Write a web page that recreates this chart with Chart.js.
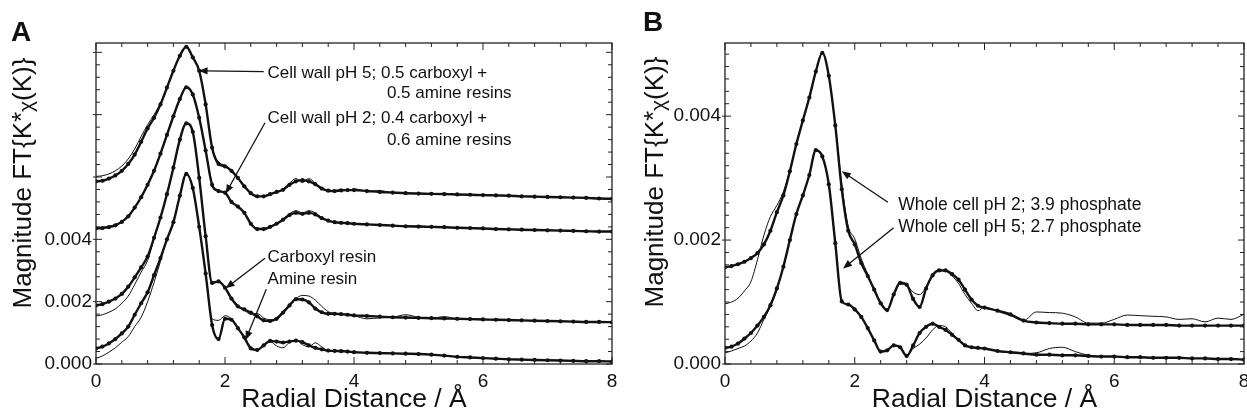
<!DOCTYPE html>
<html>
<head>
<meta charset="utf-8">
<script src="https://cdn.jsdelivr.net/npm/chart.js@4.4.1/dist/chart.umd.min.js"></script>
<style>
  html, body { margin: 0; padding: 0; background: #fff; overflow: hidden; }
  #wrap { position: relative; width: 1247px; height: 416px; overflow: hidden; }
  #chartA { position: absolute; left: 0; top: 0; }
  #chartB { position: absolute; left: 630px; top: 0; }
</style>
</head>
<body>
<div id="wrap">
  <canvas id="chartA" width="630" height="416"></canvas>
  <canvas id="chartB" width="630" height="416"></canvas>
</div>
<script>
// Radial distance grid (Å)
const radius = [0, 0.1, 0.2, 0.3, 0.4, 0.5, 0.6, 0.7, 0.8, 0.9,
  1, 1.1, 1.2, 1.3, 1.4, 1.5, 1.6, 1.7, 1.8, 1.9,
  2, 2.1, 2.2, 2.3, 2.4, 2.5, 2.6, 2.7, 2.8, 2.9,
  3, 3.1, 3.2, 3.3, 3.4, 3.5, 3.6, 3.7, 3.8, 3.9,
  4,
  4.2, 4.4, 4.6, 4.8, 5, 5.2, 5.4, 5.6, 5.8, 6,
  6.2, 6.4, 6.6, 6.8, 7, 7.2, 7.4, 7.6, 7.8, 8];

// all magnitudes below in units of 1e-3 (offset curves as plotted)
// panel A
const wallPH5 = [5.86, 5.88, 5.95, 6.05, 6.20, 6.42, 6.72, 7.13, 7.56, 7.90,
  8.33, 8.87, 9.41, 9.89, 10.18, 9.84, 9.41, 8.33, 6.94, 6.42,
  6.34, 6.20, 5.97, 5.70, 5.48, 5.38, 5.38, 5.45, 5.52, 5.59,
  5.75, 5.86, 5.90, 5.86, 5.77, 5.63, 5.56, 5.55, 5.57, 5.58,
  5.58,
  5.55, 5.52, 5.50, 5.48, 5.47, 5.46, 5.45, 5.44, 5.43, 5.42,
  5.41, 5.40, 5.38, 5.37, 5.36, 5.35, 5.34, 5.33, 5.31, 5.30];
const wallPH5Fit = [6.02, 6.04, 6.10, 6.20, 6.35, 6.58, 6.90, 7.30, 7.68, 8.00,
  8.38, 8.88, 9.41, 9.89, 10.18, 9.84, 9.41, 8.33, 6.98, 6.48,
  6.38, 6.22, 5.97, 5.70, 5.48, 5.38, 5.40, 5.46, 5.52, 5.62,
  5.80, 5.95, 5.82, 5.95, 5.80, 5.62, 5.55, 5.56, 5.60, 5.56,
  5.62,
  5.55, 5.56, 5.50, 5.48, 5.47, 5.46, 5.48, 5.43, 5.43, 5.42,
  5.41, 5.40, 5.38, 5.37, 5.36, 5.35, 5.34, 5.33, 5.31, 5.30];
const wallPH2 = [4.35, 4.36, 4.39, 4.45, 4.56, 4.74, 5.02, 5.35, 5.75, 6.20,
  6.75, 7.35, 7.95, 8.50, 8.88, 8.65, 7.90, 6.85, 5.75, 5.55,
  5.50, 5.20, 5.05, 4.85, 4.50, 4.33, 4.33, 4.40, 4.50, 4.63,
  4.78, 4.85, 4.82, 4.85, 4.80, 4.68, 4.60, 4.55, 4.53, 4.52,
  4.50,
  4.48, 4.46, 4.44, 4.42, 4.41, 4.40, 4.39, 4.37, 4.36, 4.35,
  4.33, 4.32, 4.31, 4.30, 4.29, 4.28, 4.27, 4.26, 4.25, 4.25];
const wallPH2Fit = [4.38, 4.39, 4.42, 4.48, 4.58, 4.76, 5.04, 5.37, 5.77, 6.22,
  6.75, 7.35, 7.95, 8.50, 8.88, 8.65, 7.90, 6.85, 5.80, 5.58,
  5.45, 5.22, 5.05, 4.83, 4.52, 4.35, 4.35, 4.42, 4.52, 4.65,
  4.82, 4.92, 4.85, 4.92, 4.85, 4.70, 4.60, 4.55, 4.53, 4.52,
  4.50,
  4.48, 4.47, 4.44, 4.42, 4.43, 4.40, 4.39, 4.37, 4.36, 4.35,
  4.33, 4.32, 4.31, 4.30, 4.29, 4.28, 4.27, 4.26, 4.25, 4.25];
const carboxyl = [1.88, 1.92, 2.00, 2.10, 2.25, 2.48, 2.78, 3.10, 3.45, 4.05,
  4.70, 5.45, 6.30, 7.20, 7.72, 7.45, 5.97, 4.10, 2.60, 2.65,
  2.45, 2.10, 1.85, 1.75, 1.65, 1.53, 1.40, 1.38, 1.45, 1.65,
  1.88, 2.08, 2.07, 1.98, 1.78, 1.66, 1.61, 1.61, 1.60, 1.58,
  1.56,
  1.54, 1.52, 1.50, 1.49, 1.48, 1.47, 1.46, 1.45, 1.44, 1.43,
  1.42, 1.41, 1.40, 1.39, 1.38, 1.37, 1.36, 1.35, 1.35, 1.34];
const carboxylFit = [1.54, 1.58, 1.66, 1.77, 1.95, 2.18, 2.55, 2.95, 3.32, 4.02,
  4.70, 5.45, 6.30, 7.20, 7.72, 7.45, 5.97, 4.10, 2.62, 2.62,
  2.42, 2.08, 1.85, 1.72, 1.60, 1.62, 1.48, 1.42, 1.48, 1.70,
  1.90, 2.10, 2.20, 2.18, 2.05, 1.85, 1.68, 1.62, 1.60, 1.58,
  1.55,
  1.45, 1.48, 1.50, 1.58, 1.50, 1.47, 1.52, 1.45, 1.44, 1.43,
  1.42, 1.41, 1.40, 1.39, 1.38, 1.37, 1.36, 1.35, 1.35, 1.34];
const amine = [0.50, 0.56, 0.66, 0.80, 0.98, 1.20, 1.58, 1.95, 2.30, 2.85,
  3.40, 4.00, 4.55, 5.40, 6.10, 5.65, 4.40, 2.90, 1.25, 0.80,
  1.45, 1.42, 1.15, 0.85, 0.50, 0.45, 0.60, 0.74, 0.72, 0.69,
  0.72, 0.75, 0.70, 0.60, 0.52, 0.47, 0.43, 0.42, 0.41, 0.40,
  0.38,
  0.36, 0.35, 0.34, 0.33, 0.32, 0.30, 0.27, 0.23, 0.21, 0.19,
  0.17, 0.15, 0.14, 0.13, 0.12, 0.11, 0.10, 0.09, 0.09, 0.08];
const amineFit = [0.18, 0.26, 0.38, 0.52, 0.70, 0.88, 1.20, 1.50, 2.00, 2.62,
  3.30, 4.00, 4.55, 5.40, 6.10, 5.65, 4.40, 2.90, 1.45, 1.40,
  1.55, 1.45, 1.15, 0.85, 0.55, 0.45, 0.60, 0.72, 0.58, 0.52,
  0.70, 0.76, 0.62, 0.55, 0.68, 0.55, 0.43, 0.42, 0.41, 0.40,
  0.39,
  0.36, 0.35, 0.34, 0.33, 0.32, 0.30, 0.27, 0.23, 0.21, 0.19,
  0.17, 0.15, 0.14, 0.13, 0.12, 0.11, 0.10, 0.09, 0.09, 0.08];

// panel B
const cellPH2 = [1.56, 1.58, 1.61, 1.65, 1.71, 1.79, 1.93, 2.15, 2.45, 2.72,
  3.11, 3.55, 3.93, 4.30, 4.72, 5.02, 4.65, 3.85, 2.82, 2.15,
  1.93, 1.63, 1.42, 1.20, 0.98, 0.87, 1.12, 1.31, 1.28, 1.05,
  0.92, 1.22, 1.43, 1.51, 1.51, 1.45, 1.36, 1.20, 1.04, 0.94,
  0.91,
  0.86, 0.80, 0.70, 0.67, 0.66, 0.65, 0.65, 0.64, 0.64, 0.64,
  0.63, 0.63, 0.63, 0.63, 0.62, 0.62, 0.62, 0.62, 0.62, 0.62];
const cellPH2Fit = [0.97, 1.00, 1.06, 1.18, 1.33, 1.68, 2.08, 2.38, 2.56, 2.78,
  3.13, 3.55, 3.93, 4.30, 4.72, 5.02, 4.65, 3.85, 2.90, 2.22,
  2.02, 1.70, 1.45, 1.20, 1.00, 0.88, 1.10, 1.29, 1.27, 1.16,
  1.12, 1.25, 1.45, 1.52, 1.50, 1.42, 1.30, 1.12, 0.98, 0.86,
  0.92,
  0.85, 0.78, 0.70, 0.84, 0.83, 0.82, 0.76, 0.66, 0.66, 0.72,
  0.79, 0.78, 0.77, 0.76, 0.72, 0.73, 0.68, 0.74, 0.72, 0.80];
const cellPH5 = [0.26, 0.28, 0.33, 0.41, 0.50, 0.62, 0.76, 0.95, 1.22, 1.57,
  2.00, 2.42, 2.72, 3.05, 3.45, 3.35, 2.90, 1.95, 1.01, 0.96,
  0.88, 0.76, 0.58, 0.38, 0.20, 0.22, 0.30, 0.27, 0.13, 0.30,
  0.50, 0.60, 0.65, 0.60, 0.55, 0.47, 0.39, 0.30, 0.27, 0.26,
  0.25,
  0.21, 0.19, 0.17, 0.15, 0.15, 0.14, 0.14, 0.13, 0.12, 0.12,
  0.11, 0.11, 0.10, 0.10, 0.10, 0.09, 0.09, 0.08, 0.08, 0.07];
const cellPH5Fit = [0.18, 0.21, 0.25, 0.29, 0.37, 0.50, 0.72, 0.93, 1.20, 1.57,
  2.00, 2.42, 2.72, 3.05, 3.45, 3.35, 2.90, 1.95, 1.01, 0.96,
  0.88, 0.76, 0.58, 0.38, 0.20, 0.22, 0.30, 0.27, 0.14, 0.25,
  0.32, 0.42, 0.55, 0.62, 0.60, 0.50, 0.39, 0.30, 0.27, 0.26,
  0.25,
  0.21, 0.18, 0.17, 0.18, 0.25, 0.27, 0.20, 0.14, 0.12, 0.12,
  0.11, 0.11, 0.10, 0.10, 0.10, 0.09, 0.09, 0.08, 0.08, 0.07];

// tick labels
const xTickValues = [0, 2, 4, 6, 8];
const yTickValues = [0, 0.002, 0.004];

const FONT = '"Liberation Sans", Arial, Helvetica, sans-serif';
const INK = '#111';

function pts(ys) {
  return radius.map((r, i) => ({ x: r, y: ys[i] * 1e-3 }));
}

function dataSet(ys) {
  return {
    data: pts(ys),
    borderColor: INK,
    backgroundColor: INK,
    borderWidth: 2.4,
    pointRadius: 2.1,
    pointBorderWidth: 0,
    pointBackgroundColor: INK,
    cubicInterpolationMode: 'monotone'
  };
}

function fitSet(ys) {
  return {
    data: pts(ys),
    borderColor: INK,
    borderWidth: 1,
    pointRadius: 0,
    cubicInterpolationMode: 'monotone'
  };
}

function arrow(ctx, x1, y1, x2, y2) {
  const ang = Math.atan2(y2 - y1, x2 - x1);
  const hl = 9, hw = 3.6;
  ctx.beginPath();
  ctx.moveTo(x1, y1);
  ctx.lineTo(x2 - Math.cos(ang) * hl * 0.8, y2 - Math.sin(ang) * hl * 0.8);
  ctx.stroke();
  ctx.beginPath();
  ctx.moveTo(x2, y2);
  ctx.lineTo(x2 - Math.cos(ang) * hl - Math.sin(ang) * hw, y2 - Math.sin(ang) * hl + Math.cos(ang) * hw);
  ctx.lineTo(x2 - Math.cos(ang) * hl + Math.sin(ang) * hw, y2 - Math.sin(ang) * hl - Math.cos(ang) * hw);
  ctx.closePath();
  ctx.fill();
}

function drawYTitle(ctx, cx, cy) {
  const big = '26px ' + FONT, small = '21px ' + FONT;
  const parts = [['Magnitude FT{K', big, 0], ['*', big, -1], ['\u03C7', small, 3], ['(K)}', big, 0]];
  ctx.save();
  ctx.translate(cx, cy);
  ctx.rotate(-Math.PI / 2);
  ctx.fillStyle = INK;
  ctx.textBaseline = 'middle';
  ctx.textAlign = 'left';
  let total = 0;
  parts.forEach(p => { ctx.font = p[1]; total += ctx.measureText(p[0]).width; });
  let xx = -total / 2;
  parts.forEach(p => {
    ctx.font = p[1];
    ctx.fillText(p[0], xx, p[2]);
    xx += ctx.measureText(p[0]).width;
  });
  ctx.restore();
}

// frame, inward ticks, labels and arrows for one panel
function panelPlugin(panel) {
  return {
    id: 'panel' + panel.letter,
    afterDatasetsDraw(chart) {
      const { ctx, chartArea: a, scales: { x, y } } = chart;
      ctx.save();
      ctx.strokeStyle = '#222';
      ctx.lineWidth = 1.3;
      ctx.strokeRect(a.left, a.top, a.right - a.left, a.bottom - a.top);
      ctx.lineWidth = 1;
      ctx.beginPath();
      for (let i = 0; i * 0.4 <= 8.0001; i++) {
        const len = i % 5 === 0 ? 7 : 4;
        const px = x.getPixelForValue(i * 0.4);
        ctx.moveTo(px, a.bottom); ctx.lineTo(px, a.bottom - len);
        ctx.moveTo(px, a.top); ctx.lineTo(px, a.top + len);
      }
      const per = Math.round(0.002 / panel.yMinor);
      for (let i = 0; i * panel.yMinor <= y.max + 1e-9; i++) {
        const major = i % per === 0;
        const py = y.getPixelForValue(i * panel.yMinor);
        ctx.moveTo(a.left - (major ? 3 : 0), py); ctx.lineTo(a.left + (major ? 6 : 4), py);
        ctx.moveTo(a.right, py); ctx.lineTo(a.right - (major ? 6 : 4), py);
      }
      ctx.stroke();
      ctx.restore();
    },
    afterDraw(chart) {
      const { ctx, scales: { x, y } } = chart;
      const X = v => x.getPixelForValue(v);
      const Y = v => y.getPixelForValue(v * 1e-3);
      ctx.save();
      ctx.fillStyle = INK;
      ctx.strokeStyle = INK;
      ctx.lineWidth = 1.3;
      ctx.font = panel.noteSize + 'px ' + FONT;
      ctx.textBaseline = 'middle';
      ctx.textAlign = 'left';
      panel.notes.forEach(n => ctx.fillText(n.text, X(n.x), Y(n.y)));
      panel.arrows.forEach(r => arrow(ctx, X(r[0]), Y(r[1]), X(r[2]), Y(r[3])));
      ctx.font = 'bold 28px ' + FONT;
      ctx.textBaseline = 'alphabetic';
      ctx.fillText(panel.letter, panel.letterPos[0], panel.letterPos[1]);
      ctx.restore();
      drawYTitle(ctx, panel.titlePos[0], panel.titlePos[1]);
    }
  };
}

function makeChart(id, panel, datasets) {
  return new Chart(document.getElementById(id), {
    type: 'line',
    data: { datasets },
    options: {
      responsive: false,
      animation: false,
      events: [],
      layout: { padding: { left: 0, right: panel.padRight, top: 43, bottom: 0 } },
      plugins: { legend: { display: false }, tooltip: { enabled: false } },
      scales: {
        x: {
          type: 'linear', min: 0, max: 8,
          grid: { display: false, drawTicks: false }, border: { display: false },
          afterBuildTicks: s => { s.ticks = xTickValues.map(v => ({ value: v })); },
          afterFit: s => { s.height = 52; },
          ticks: { font: { family: FONT, size: 19 }, color: INK, padding: 6, autoSkip: false, maxRotation: 0,
                   callback: v => String(v) },
          title: { display: true, text: 'Radial Distance / Å', color: INK,
                   font: { family: FONT, size: 26.5 }, padding: { top: 0, bottom: 0 } }
        },
        y: {
          type: 'linear', min: 0, max: panel.yMax,
          grid: { display: false, drawTicks: false }, border: { display: false },
          afterBuildTicks: s => { s.ticks = yTickValues.map(v => ({ value: v })); },
          afterFit: s => { s.width = panel.axisWidth; },
          ticks: { font: { family: FONT, size: 19 }, color: INK, padding: 4, autoSkip: false,
                   callback: v => v.toFixed(3) }
        }
      }
    },
    plugins: [panelPlugin(panel)]
  });
}

makeChart('chartA', {
  letter: 'A', letterPos: [11, 41], titlePos: [24, 183],
  yMax: 0.0103, yMinor: 0.0004, axisWidth: 96, padRight: 18, noteSize: 17,
  notes: [
    { text: 'Cell wall pH 5; 0.5 carboxyl +', x: 2.66, y: 9.34 },
    { text: '0.5 amine resins', x: 4.51, y: 8.67 },
    { text: 'Cell wall pH 2; 0.4 carboxyl +', x: 2.66, y: 7.87 },
    { text: '0.6 amine resins', x: 4.51, y: 7.17 },
    { text: 'Carboxyl resin', x: 2.66, y: 3.42 },
    { text: 'Amine resin', x: 2.66, y: 2.72 }
  ],
  arrows: [
    [2.60, 9.38, 1.59, 9.41],
    [2.62, 7.74, 2.01, 5.47],
    [2.62, 3.39, 2.01, 2.43],
    [2.64, 2.40, 2.32, 0.77]
  ]
}, [
  dataSet(wallPH5), fitSet(wallPH5Fit),
  dataSet(wallPH2), fitSet(wallPH2Fit),
  dataSet(carboxyl), fitSet(carboxylFit),
  dataSet(amine), fitSet(amineFit)
]);

makeChart('chartB', {
  letter: 'B', letterPos: [13, 31], titlePos: [26, 182],
  yMax: 0.00518, yMinor: 0.0002, axisWidth: 95, padRight: 16, noteSize: 17.5,
  notes: [
    { text: 'Whole cell pH 2; 3.9 phosphate', x: 2.67, y: 2.57 },
    { text: 'Whole cell pH 5; 2.7 phosphate', x: 2.67, y: 2.21 }
  ],
  arrows: [
    [2.51, 2.61, 1.80, 3.11],
    [2.60, 2.20, 1.82, 1.54]
  ]
}, [
  dataSet(cellPH2), fitSet(cellPH2Fit),
  dataSet(cellPH5), fitSet(cellPH5Fit)
]);
</script>
</body>
</html>
